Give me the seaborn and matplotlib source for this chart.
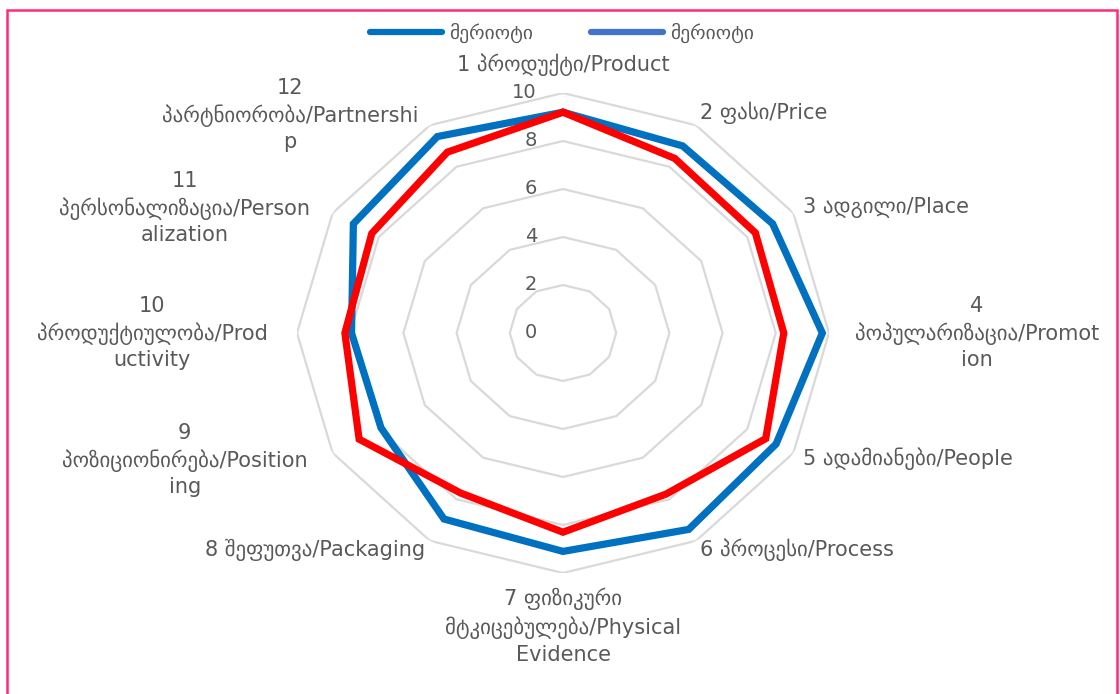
import numpy as np
import pandas as pd
import seaborn as sns
import matplotlib.pyplot as plt
from matplotlib.lines import Line2D
from matplotlib.patches import Rectangle

# --- data -------------------------------------------------------------
categories = [
    "1 პროდუქტი/Product",
    "2 ფასი/Price",
    "3 ადგილი/Place",
    "4\nპოპულარიზაცია/Promot\nion",
    "5 ადამიანები/People",
    "6 პროცესი/Process",
    "7 ფიზიკური\nმტკიცებულება/Physical\nEvidence",
    "8 შეფუთვა/Packaging",
    "9\nპოზიციონირება/Position\ning",
    "10\nპროდუქტიულობა/Prod\nuctivity",
    "11\nპერსონალიზაცია/Person\nalization",
    "12\nპარტნიორობა/Partnershi\np",
]
series_blue = [9.2, 9.0, 9.1, 9.75, 9.25, 9.45, 9.1, 8.95, 7.9, 7.95, 9.1, 9.45]
series_red = [9.2, 8.4, 8.35, 8.3, 8.8, 7.75, 8.3, 7.7, 8.85, 8.2, 8.3, 8.7]
legend_labels = ["მერიოტი", "მერიოტი"]
radial_ticks = [0, 2, 4, 6, 8, 10]

# --- style ------------------------------------------------------------
sns.set_theme(style="white")
plt.rcParams["font.family"] = ["DejaVu Sans"]
TEXT = "#595959"
GRID = "#D9D9D9"
BLUE = "#0070C0"
RED = "#FF0000"
LEGEND_BLUE2 = "#4472C4"

n = len(categories)
angles = np.arange(n) * 2 * np.pi / n
closed = np.append(angles, angles[0] + 2 * np.pi)

frames = []
for name, vals in (("a", series_blue), ("b", series_red)):
    frames.append(pd.DataFrame({
        "theta": closed,
        "value": list(vals) + [vals[0]],
        "series": name,
    }))
df = pd.concat(frames, ignore_index=True)

fig = plt.figure(figsize=(11.2, 6.94), dpi=100)
W, H = 1120, 694
cx, cy = 563, 333
rx, ry = 266, 240
ax = fig.add_axes([(cx - rx) / W, (H - cy - ry) / H, 2 * rx / W, 2 * ry / H],
                  projection="polar")
ax.set_aspect("auto")
ax.set_theta_offset(np.pi / 2)
ax.set_theta_direction(-1)

# polygonal grid rings
for r in radial_ticks[1:]:
    ax.plot(closed, [r] * len(closed), color=GRID, lw=1.6, zorder=1)

sns.lineplot(data=df, x="theta", y="value", hue="series",
             palette={"a": BLUE, "b": RED}, sort=False, estimator=None,
             linewidth=5.2, legend=False, ax=ax, zorder=3,
             solid_joinstyle="miter")

ax.set_ylim(0, 10)
ax.set_xticks([])
ax.set_yticks([])
ax.grid(False)
ax.spines["polar"].set_visible(False)
ax.set_xlabel("")
ax.set_ylabel("")

# radial value labels
for r in radial_ticks:
    ax.annotate(str(r), xy=(0, r), xytext=(-26, 0), textcoords="offset pixels",
                ha="right", va="center", fontsize=14, color=TEXT)

# category labels, anchored at the outer ring of each spoke
label_layout = [
    (0, 28, "center", "center"),
    (4, 12, "left", "center"),
    (10, 5, "left", "center"),
    (148, 0, "center", "center"),
    (10, -6, "left", "center"),
    (4, -9, "left", "center"),
    (0, -15, "center", "top"),
    (-5, -9, "right", "center"),
    (-148, -7, "center", "center"),
    (-145, 0, "center", "center"),
    (-148, 5, "center", "center"),
    (-140, 10, "center", "center"),
]
for ang, text, (dx, dy, ha, va) in zip(angles, categories, label_layout):
    ax.annotate(text, xy=(ang, 10), xytext=(dx, dy), textcoords="offset pixels",
                ha=ha, va=va, ma="center", fontsize=15, color=TEXT,
                linespacing=1.36, annotation_clip=False)

handles = [Line2D([0], [0], color=BLUE, lw=4.5, solid_capstyle="round"),
           Line2D([0], [0], color=LEGEND_BLUE2, lw=4.5, solid_capstyle="round")]
leg = fig.legend(handles, legend_labels, loc="center", ncol=2,
                 bbox_to_anchor=(562 / W, 1 - 33 / H), frameon=False,
                 fontsize=14, handlelength=3.7, handletextpad=0.35,
                 columnspacing=3.0, labelcolor=TEXT)

# figure frame
fig.add_artist(Rectangle((7 / W, -0.05), (1117 - 7) / W, 1.05 - 10 / H,
                         transform=fig.transFigure, fill=False,
                         edgecolor="#FF2A7A", lw=1.8))

fig.savefig("out.png", dpi=100)
